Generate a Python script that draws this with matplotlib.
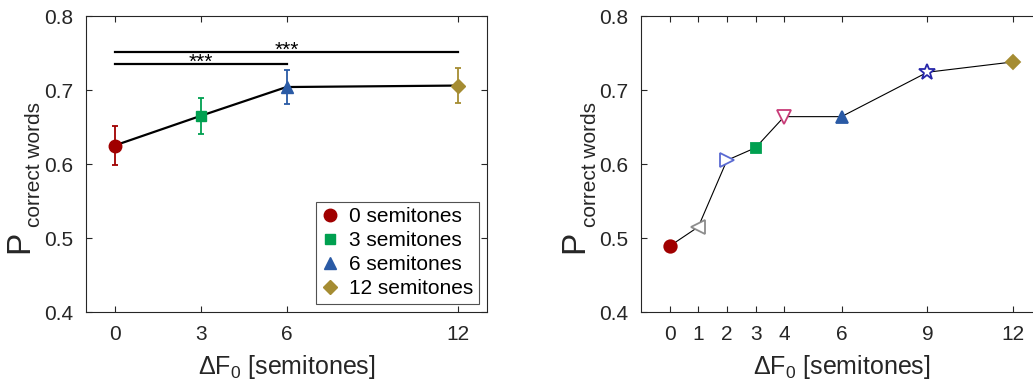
import matplotlib
matplotlib.use("Agg")
import matplotlib.pyplot as plt

plt.rcParams['font.family'] = ['Liberation Sans', 'DejaVu Sans']
plt.rcParams['mathtext.fontset'] = 'custom'
plt.rcParams['mathtext.rm'] = 'Liberation Sans'
plt.rcParams['mathtext.it'] = 'Liberation Sans'

# left panel: mean with error bars
shifts_l = [0, 3, 6, 12]
p_l = [0.625, 0.665, 0.704, 0.706]
err_l = [0.026, 0.024, 0.023, 0.024]
labels_l = ["0 semitones", "3 semitones", "6 semitones", "12 semitones"]
markers_l = ["o", "s", "^", "D"]
colors_l = ["#a00000", "#00a050", "#2a5aa5", "#a58c32"]
ms_l = [9, 7.5, 9, 7]

# significance brackets (from, to, height)
sig_from = [0, 0]
sig_to = [12, 6]
sig_y = [0.752, 0.735]

# right panel
shifts_r = [0, 1, 2, 3, 4, 6, 9, 12]
p_r = [0.489, 0.515, 0.605, 0.622, 0.664, 0.664, 0.724, 0.738]
markers_r = ["o", "<", ">", "s", "v", "^", "*", "D"]
colors_r = ["#a00000", "#8c8c8c", "#5a6ad2", "#00a050", "#c83c78", "#2a5aa5", "#2828aa", "#a58c32"]
filled_r = [True, False, False, True, False, True, False, True]
ms_r = [9, 10, 10, 7.5, 10, 9, 12, 7]

txt = "#262626"
W, H = 1033, 380
fig = plt.figure(figsize=(W / 100, H / 100), dpi=100)
ax1 = fig.add_axes([86/W, 68/H, 401/W, 296/H])
ax2 = fig.add_axes([641/W, 68/H, 401/W, 296/H])

ax1.plot(shifts_l, p_l, color="black", lw=1.6, zorder=2)
for x, y, e, lab, m, c, s in zip(shifts_l, p_l, err_l, labels_l, markers_l, colors_l, ms_l):
    ax1.errorbar(x, y, yerr=e, fmt=m, color=c, ms=s, mec=c, elinewidth=1.3,
                 capsize=2.5, capthick=1.3, label=lab, zorder=3)

for a, b, y in zip(sig_from, sig_to, sig_y):
    ax1.plot([a, b], [y, y], color="black", lw=1.6)
    ax1.annotate("***", xy=((a + b) / 2, y), xytext=(0, -3), textcoords="offset points",
                 ha="center", va="baseline", fontsize=15)

handles, labs = ax1.get_legend_handles_labels()
handles = [h[0] for h in handles]
leg = ax1.legend(handles, labs, loc="lower right", fontsize=15, frameon=True, fancybox=False,
                 edgecolor=txt, handlelength=0.9, handletextpad=0.45, labelspacing=0.25,
                 borderpad=0.25, borderaxespad=0.4)
leg.get_frame().set_linewidth(0.8)

ax2.plot(shifts_r, p_r, color="black", lw=0.8, zorder=2)
for x, y, m, c, f, s in zip(shifts_r, p_r, markers_r, colors_r, filled_r, ms_r):
    ax2.plot(x, y, marker=m, ms=s, color=c, mfc=c if f else "white", mec=c,
             mew=1.3, ls="none", zorder=3)

for ax, ticks, sx in [(ax1, shifts_l, 86), (ax2, shifts_r, 641)]:
    ax.set_xlim(-1, 13)
    ax.set_ylim(0.4, 0.8)
    ax.set_xticks(ticks)
    ax.set_yticks([0.4, 0.5, 0.6, 0.7, 0.8])
    ax.tick_params(direction="in", top=True, right=True, length=4, width=0.8,
                   labelsize=15, colors=txt, pad=9)
    for sp in ax.spines.values():
        sp.set_color(txt)
        sp.set_linewidth(0.8)
    ax.set_xlabel(r"$\mathregular{\Delta F_0}$ [semitones]", fontsize=18, color=txt, labelpad=7)
    # y label: big P with a smaller subscript, as in the original
    fig.text((sx - 66) / W, (H - 242) / H, "P", rotation=90, fontsize=24, color=txt,
             ha="center", va="center")
    fig.text((sx - 51) / W, (H - 227) / H, "correct words", rotation=90, fontsize=15,
             color=txt, ha="center", va="bottom")

fig.savefig("out.png", dpi=100)
